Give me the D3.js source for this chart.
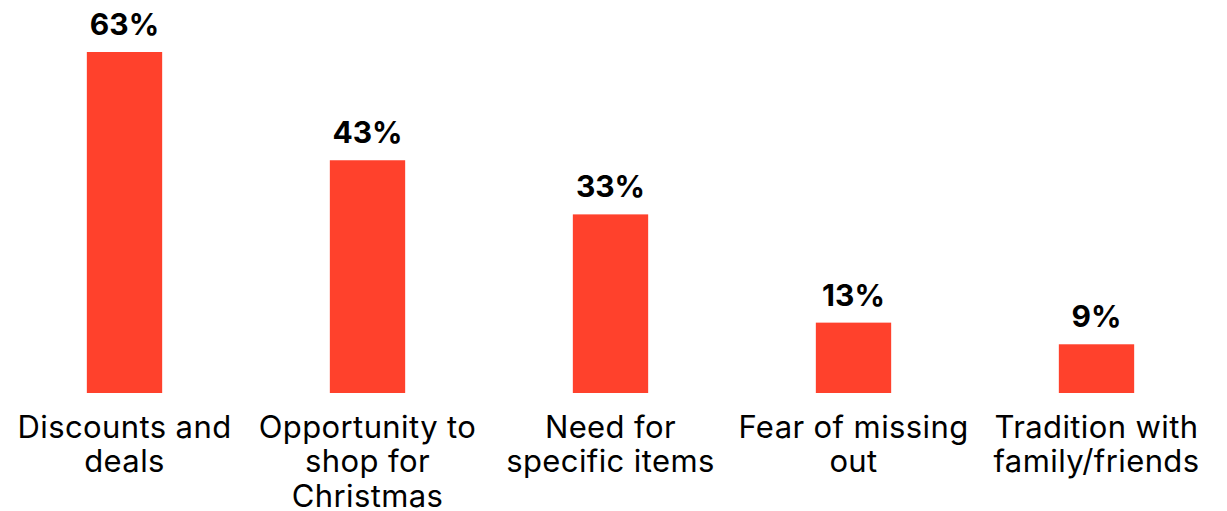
<!DOCTYPE html>
<html>
<head>
<meta charset="utf-8">
<script src="https://cdn.jsdelivr.net/npm/d3@7"></script>
<style>
  html, body { margin: 0; padding: 0; background: #fff; }
  svg { display: block; }
</style>
</head>
<body>
<svg id="chart" width="1227" height="511"></svg>
<script>
// Reasons for shopping, share of respondents (%)
const categories = [
  ["Discounts and", "deals"],
  ["Opportunity to", "shop for", "Christmas"],
  ["Need for", "specific items"],
  ["Fear of missing", "out"],
  ["Tradition with", "family/friends"]
];
const values = [63, 43, 33, 13, 9];
const valueLabels = ["63%", "43%", "33%", "13%", "9%"];

const width = 1227, height = 511;
const margin = { top: 52, right: 9, bottom: 118, left: 3 };
const svg = d3.select("#chart");
const fontFamily = "Inter, 'Liberation Sans', Arial, sans-serif";

const keys = categories.map((c, i) => i);
const x = d3.scaleBand()
  .domain(keys)
  .range([margin.left, width - margin.right])
  .paddingInner(0.69)
  .paddingOuter(0.345);

const y = d3.scaleLinear()
  .domain([0, 63])
  .range([height - margin.bottom, margin.top]);

const g = svg.append("g");

g.selectAll("rect.bar")
  .data(values)
  .join("rect")
  .attr("class", "bar")
  .attr("x", (d, i) => x(i))
  .attr("y", d => y(d))
  .attr("width", x.bandwidth())
  .attr("height", d => y(0) - y(d))
  .attr("fill", "#FF412C");

g.selectAll("text.value")
  .data(values)
  .join("text")
  .attr("class", "value")
  .attr("x", (d, i) => x(i) + x.bandwidth() / 2)
  .attr("y", d => y(d) - 17)
  .attr("text-anchor", "middle")
  .attr("font-family", fontFamily)
  .attr("font-weight", 700)
  .attr("font-size", 30)
  .attr("fill", "#000")
  .text((d, i) => valueLabels[i]);

// Category labels below the baseline
const axis = d3.axisBottom(x).tickSize(0).tickFormat(() => "");
const axisG = svg.append("g")
  .attr("transform", `translate(0,${y(0)})`)
  .call(axis);
axisG.select(".domain").remove();

axisG.selectAll(".tick").each(function(i) {
  const t = d3.select(this).append("text")
    .attr("text-anchor", "middle")
    .attr("font-family", fontFamily)
    .attr("font-size", 31)
    .attr("letter-spacing", 0.4)
    .attr("fill", "#000")
    .attr("y", 45);
  categories[i].forEach((line, k) => {
    t.append("tspan").attr("x", 0).attr("dy", k === 0 ? 0 : 34.3).text(line);
  });
});
</script>
</body>
</html>
